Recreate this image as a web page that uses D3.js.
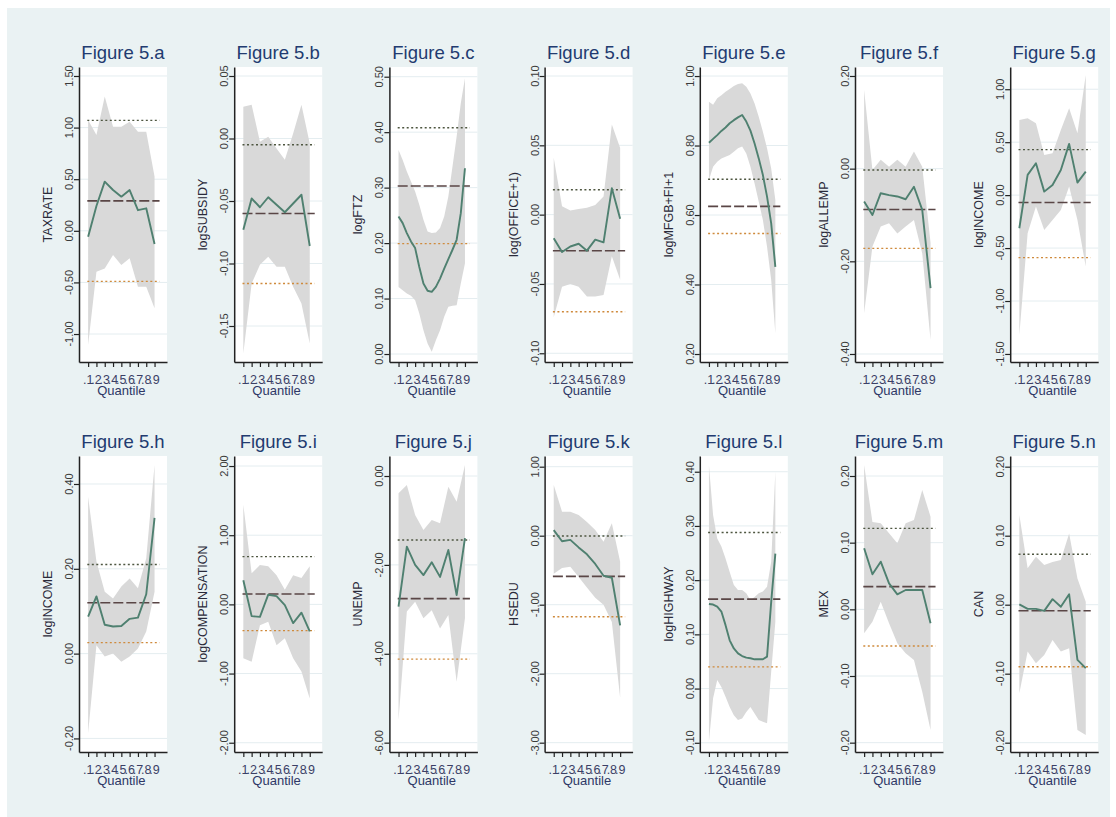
<!DOCTYPE html>
<html><head><meta charset="utf-8">
<script src="https://cdn.jsdelivr.net/npm/d3@7"></script>
<style>
body{margin:0;background:#ffffff;}
svg{display:block;}
text{font-family:"Liberation Sans", Arial, sans-serif;}
</style>
</head><body>
<svg id="chart" width="1116" height="817"></svg>
<script>
// ---------- DATA ----------
const panelTitles = ["Figure 5.a","Figure 5.b","Figure 5.c","Figure 5.d","Figure 5.e","Figure 5.f","Figure 5.g",
                     "Figure 5.h","Figure 5.i","Figure 5.j","Figure 5.k","Figure 5.l","Figure 5.m","Figure 5.n"];
const yTitles = ["TAXRATE","logSUBSIDY","logFTZ","log(OFFICE+1)","logMFGB+FI+1","logALLEMP","logINCOME",
                 "logINCOME","logCOMPENSATION","UNEMP","HSEDU","logHIGHWAY","MEX","CAN"];
const quantiles9 = [0.1,0.2,0.3,0.4,0.5,0.6,0.7,0.8,0.9];
const quantiles17 = [0.1,0.15,0.2,0.25,0.3,0.35,0.4,0.45,0.5,0.55,0.6,0.65,0.7,0.75,0.8,0.85,0.9];
const xTickValues = [0.1,0.2,0.3,0.4,0.5,0.6,0.7,0.8,0.9];
const xTickLabels = [".1",".2",".3",".4",".5",".6",".7",".8",".9"];
const xTitle = "Quantile";
const xDomain = [-0.01, 1.05];
const olsSpan = [0.09, 0.96];

const yDomains = [
  [-1.271, 1.587], [-0.1788, 0.0572], [-0.0144, 0.5175], [-0.1063, 0.1065], [0.177, 1.026], [-0.4173, 0.2194], [-1.576, 1.21],
  [-0.232, 0.466], [-2.134, 2.145], [-6.21, 0.45], [-3.135, 1.155], [-0.117, 0.429], [-0.214, 0.23], [-0.2135, 0.2155]
];
const yTickValues = [
  [-1,-0.5,0,0.5,1,1.5], [-0.15,-0.1,-0.05,0,0.05], [0,0.1,0.2,0.3,0.4,0.5], [-0.1,-0.05,0,0.05,0.1],
  [0.2,0.4,0.6,0.8,1.0], [-0.4,-0.2,0,0.2], [-1.5,-1,-0.5,0,0.5,1],
  [-0.2,0,0.2,0.4], [-2,-1,0,1,2], [-6,-4,-2,0], [-3,-2,-1,0,1], [-0.1,0,0.1,0.2,0.3,0.4],
  [-0.2,-0.1,0,0.1,0.2], [-0.2,-0.1,0,0.1,0.2]
];

// quantile regression coefficient
const coef = [
  [-0.057, 0.24, 0.476, 0.395, 0.331, 0.395, 0.20, 0.218, -0.128],
  [-0.073, -0.048, -0.055, -0.047, -0.053, -0.059, -0.052, -0.045, -0.086],
  [0.248,0.236,0.218,0.203,0.191,0.157,0.127,0.114,0.112,0.121,0.136,0.154,0.171,0.188,0.206,0.254,0.335],
  [-0.017, -0.027, -0.023, -0.021, -0.026, -0.018, -0.020, 0.019, -0.003],
  [0.808,0.819,0.830,0.842,0.852,0.864,0.873,0.881,0.888,0.869,0.843,0.806,0.763,0.715,0.653,0.576,0.451],
  [-0.071, -0.10, -0.053, -0.057, -0.06, -0.066, -0.039, -0.089, -0.258],
  [-0.313, 0.191, 0.301, 0.033, 0.096, 0.238, 0.484, 0.118, 0.222],
  [0.087, 0.135, 0.068, 0.064, 0.065, 0.082, 0.085, 0.14, 0.32],
  [0.35, -0.17, -0.18, 0.14, 0.12, -0.01, -0.27, -0.12, -0.39],
  [-2.94, -1.59, -2.0, -2.23, -1.94, -2.27, -1.665, -2.68, -1.40],
  [0.08, -0.08, -0.06, -0.17, -0.27, -0.41, -0.58, -0.61, -1.3],
  [0.156,0.155,0.151,0.142,0.117,0.089,0.074,0.065,0.060,0.057,0.056,0.054,0.054,0.054,0.059,0.160,0.249],
  [0.0915, 0.0525, 0.0715, 0.039, 0.0225, 0.029, 0.029, 0.029, -0.021],
  [0.0005, -0.006, -0.006, -0.009, 0.008, -0.003, 0.015, -0.08, -0.092]
];
// lower bound of confidence band
const ciLow = [
  [-1.107, -0.396, -0.364, -0.234, -0.331, -0.267, -0.541, -0.541, -0.751],
  [-0.172, -0.116, -0.101, -0.0945, -0.1025, -0.1025, -0.1185, -0.132, -0.164],
  [0.121,0.115,0.109,0.105,0.097,0.073,0.043,0.019,0.004,0.025,0.043,0.067,0.085,0.087,0.088,0.127,0.163],
  [-0.074, -0.052, -0.05, -0.052, -0.059, -0.059, -0.058, -0.03, -0.047],
  [0.701,0.739,0.753,0.763,0.768,0.773,0.782,0.792,0.797,0.777,0.739,0.691,0.638,0.586,0.509,0.413,0.260],
  [-0.312, -0.168, -0.125, -0.118, -0.14, -0.125, -0.111, -0.183, -0.37],
  [-1.32, -0.36, -0.108, -0.329, -0.234, -0.14, 0.081, -0.234, -0.675],
  [-0.188, 0.02, -0.007, 0.0, -0.019, -0.007, 0.012, 0.052, 0.146],
  [-0.78, -0.83, -0.30, -0.25, -0.59, -0.49, -0.78, -0.97, -1.36],
  [-5.49, -3.05, -2.83, -3.2, -3.02, -3.43, -3.13, -4.63, -3.2],
  [-0.55, -0.47, -0.45, -0.6, -0.75, -0.9, -1.0, -1.25, -2.35],
  [-0.098,-0.018,0.016,0.003,-0.015,-0.034,-0.049,-0.058,-0.055,-0.043,-0.034,-0.046,-0.058,-0.061,-0.064,0.031,0.123],
  [-0.036, -0.0185, 0.0115, -0.021, -0.051, -0.066, -0.076, -0.1235, -0.181],
  [-0.1285, -0.068, -0.085, -0.073, -0.051, -0.068, -0.063, -0.1816, -0.189]
];
// upper bound of confidence band
const ciHigh = [
  [1.074, 0.928, 1.30, 1.009, 1.009, 1.057, 0.96, 0.96, 0.525],
  [0.0255, 0.027, -0.0025, 0.0015, -0.008, -0.017, 0.004, 0.027, -0.004],
  [0.368,0.35,0.329,0.311,0.293,0.269,0.242,0.221,0.218,0.219,0.227,0.248,0.284,0.338,0.392,0.452,0.497],
  [0.041, 0.006, 0.003, 0.004, 0.005, 0.007, 0.013, 0.065, 0.048],
  [0.926,0.917,0.936,0.945,0.955,0.963,0.971,0.977,0.979,0.969,0.950,0.921,0.883,0.840,0.792,0.734,0.643],
  [0.17, -0.003, 0.019, 0.004, 0.019, 0.004, 0.037, 0.004, -0.16],
  [0.71, 0.726, 0.679, 0.38, 0.395, 0.616, 0.82, 0.584, 1.135],
  [0.37, 0.217, 0.146, 0.13, 0.158, 0.177, 0.154, 0.225, 0.445],
  [1.44, 0.45, 0.57, 0.55, 0.42, 0.21, 0.42, 0.38, 0.55],
  [-0.39, -0.2, -0.88, -1.215, -0.99, -1.065, -0.24, -0.58, 0.25],
  [0.734, 0.348, 0.348, 0.30, 0.20, 0.082, -0.087, 0.18, -0.377],
  [0.412,0.32,0.277,0.262,0.24,0.215,0.191,0.182,0.182,0.176,0.163,0.169,0.176,0.179,0.188,0.234,0.40],
  [0.2165, 0.131, 0.129, 0.114, 0.099, 0.129, 0.134, 0.179, 0.139],
  [0.13, 0.0527, 0.0696, 0.0575, 0.062, 0.0647, 0.103, 0.038, 0.0043]
];
// OLS estimate and its confidence bounds
const olsCoef = [0.29, -0.060, 0.303, -0.026, 0.625, -0.088, -0.07, 0.12, 0.15, -2.76, -0.59, 0.165, 0.034, -0.0087];
const olsLow  = [-0.49, -0.116, 0.199, -0.070, 0.547, -0.172, -0.59, 0.026, -0.38, -4.12, -1.174, 0.04, -0.055, -0.09];
const olsHigh = [1.07, -0.005, 0.408, 0.018, 0.703, -0.003, 0.43, 0.21, 0.69, -1.44, -0.005, 0.288, 0.1215, 0.073];

// ---------- LAYOUT / STYLE ----------
const colLeft = d3.range(7).map(c => 79 + c * 155.2);
const rowTop = [67, 456];
const rowBottom = [362, 752];
const plotW = 88;
const fmt = v => (Math.abs(v) < 1e-9 ? 0 : v).toFixed(2);

const svg = d3.select("#chart");
svg.append("rect").attr("x", 7).attr("y", 8).attr("width", 1103).attr("height", 809).attr("fill", "#eaf2f3");

panelTitles.forEach((title, i) => {
  const r = Math.floor(i / 7), c = i % 7;
  const x0 = colLeft[c], y0 = rowTop[r], y1 = rowBottom[r];
  const x = d3.scaleLinear().domain(xDomain).range([x0, x0 + plotW]);
  const y = d3.scaleLinear().domain(yDomains[i]).range([y1, y0]);
  const q = coef[i].length === 17 ? quantiles17 : quantiles9;
  const g = svg.append("g");

  // plot region
  g.append("rect").attr("x", x0).attr("y", y0).attr("width", plotW).attr("height", y1 - y0).attr("fill", "#ffffff");

  // grid
  g.selectAll(".grid").data(yTickValues[i]).join("line")
    .attr("x1", x0).attr("x2", x0 + plotW)
    .attr("y1", d => y(d)).attr("y2", d => y(d))
    .attr("stroke", "#e4edf0").attr("stroke-width", 1);

  // confidence band
  const area = d3.area()
    .x((d, j) => x(q[j]))
    .y0((d, j) => y(ciLow[i][j]))
    .y1((d, j) => y(ciHigh[i][j]));
  g.append("path").datum(coef[i]).attr("d", area).attr("fill", "#d9d9d9");

  // OLS lines
  const hline = (v, stroke, dash, w) => g.append("line")
    .attr("x1", x(olsSpan[0])).attr("x2", x(olsSpan[1]))
    .attr("y1", y(v)).attr("y2", y(v))
    .attr("stroke", stroke).attr("stroke-width", w).attr("stroke-dasharray", dash);
  hline(olsHigh[i], "#4e5640", "2,2.5", 1.4);
  hline(olsLow[i], "#cf8a3c", "2,2.5", 1.4);
  hline(olsCoef[i], "#5a4646", "10,3", 1.6);

  // quantile coefficient line
  const line = d3.line().x((d, j) => x(q[j])).y(d => y(d));
  g.append("path").datum(coef[i]).attr("d", line)
    .attr("fill", "none").attr("stroke", "#4f8070").attr("stroke-width", 1.9).attr("stroke-linejoin", "round");

  // axes
  const ay = g.append("g").attr("transform", `translate(${x0},0)`)
    .call(d3.axisLeft(y).tickValues(yTickValues[i]).tickSize(5).tickSizeOuter(0).tickFormat(""));
  const ax = g.append("g").attr("transform", `translate(0,${y1})`)
    .call(d3.axisBottom(x).tickValues(xTickValues).tickSize(5).tickSizeOuter(0).tickFormat(""));
  [ay, ax].forEach(a => {
    a.select(".domain").attr("stroke", "#222").attr("stroke-width", 1.5);
    a.selectAll(".tick line").attr("stroke", "#222").attr("stroke-width", 1.2);
  });

  // y tick labels (rotated)
  g.selectAll(".ylab").data(yTickValues[i]).join("text")
    .attr("x", x0 - 6).attr("y", d => y(d))
    .attr("transform", d => `rotate(-90,${x0 - 6},${y(d)})`)
    .attr("text-anchor", "middle").attr("font-size", 11).attr("fill", "#3a3a3a")
    .text(d => fmt(d));

  // y title
  const ym = (y0 + y1) / 2;
  g.append("text").attr("x", x0 - 27).attr("y", ym)
    .attr("transform", `rotate(-90,${x0 - 27},${ym})`)
    .attr("text-anchor", "middle").attr("font-size", 12.5).attr("fill", "#2a2a3a")
    .text(yTitles[i]);

  // x tick labels
  g.selectAll(".xlab").data(xTickValues).join("text")
    .attr("x", d => x(d)).attr("y", y1 + 22)
    .attr("text-anchor", "middle").attr("font-size", 12.5).attr("fill", "#3b3f66")
    .text((d, j) => xTickLabels[j]);

  // x title
  g.append("text").attr("x", x(0.5)).attr("y", y1 + 33)
    .attr("text-anchor", "middle").attr("font-size", 13).attr("fill", "#2e3866")
    .text(xTitle);

  // panel title
  g.append("text").attr("x", x0 + plotW / 2).attr("y", y0 - 8)
    .attr("text-anchor", "middle").attr("font-size", 18.5).attr("fill", "#223b70")
    .text(title);
});
</script>
</body></html>
